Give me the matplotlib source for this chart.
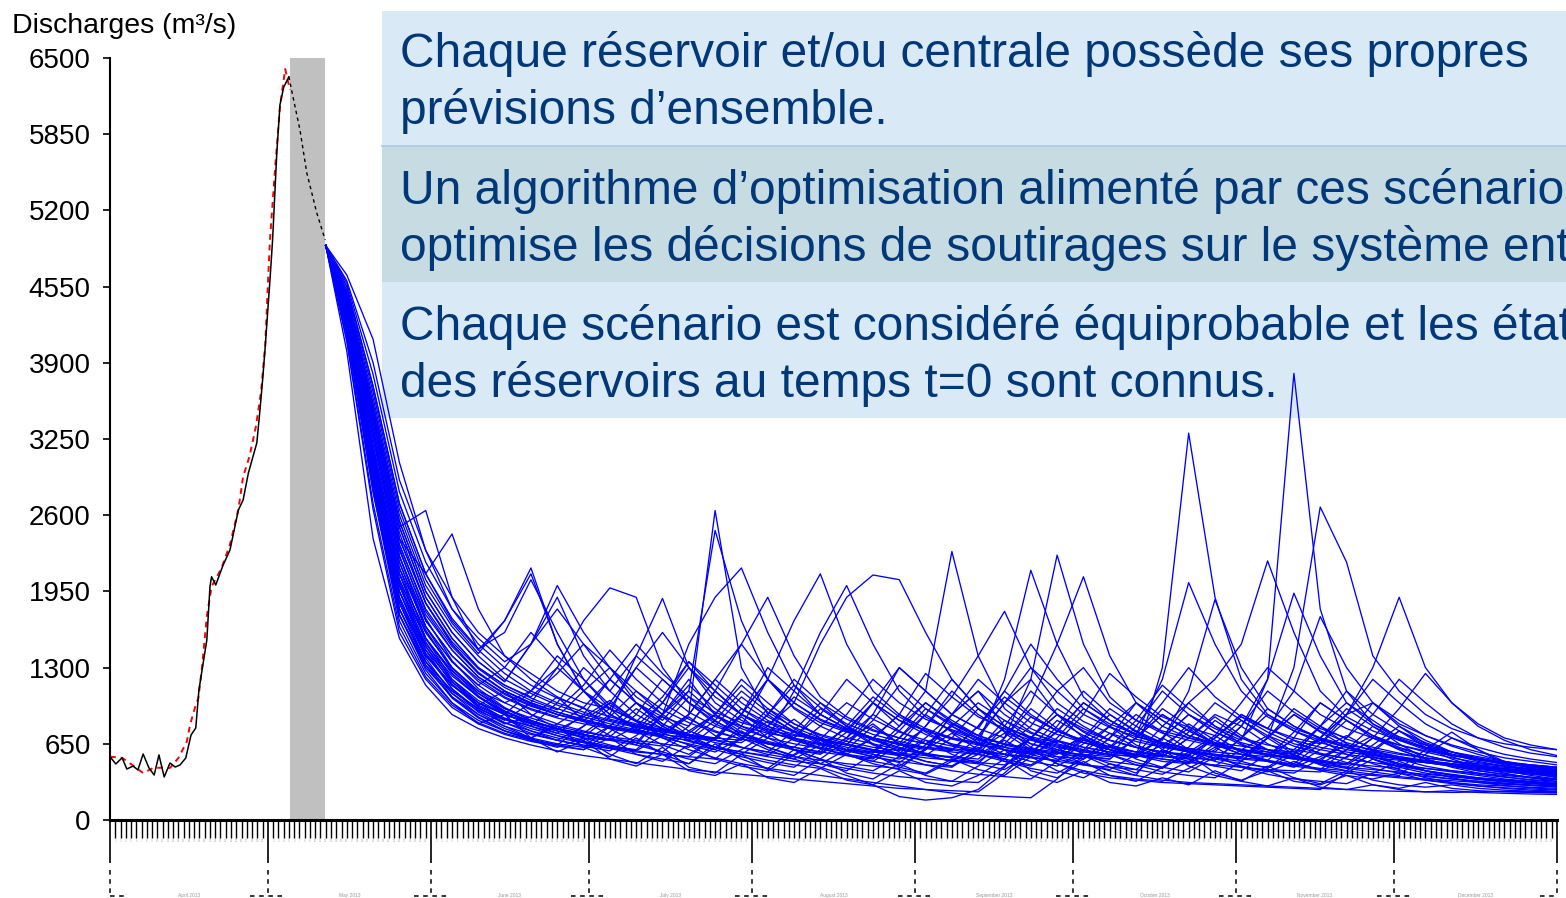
import numpy as np
import pandas as pd
import matplotlib
matplotlib.use('Agg')
import matplotlib.pyplot as plt
from matplotlib.patches import Rectangle
from matplotlib.lines import Line2D
from matplotlib.transforms import blended_transform_factory

plt.rcParams['font.family'] = ['Liberation Sans', 'DejaVu Sans']

# days counted from 1 April 2013
obs_days = [0, 1.1, 2.3, 3.2, 4.4, 5.3, 6.3, 7.4, 8.4, 9.3, 10.3, 11.4, 12.4, 13.3,
            14.4, 15.4, 16.3, 16.9, 17.9, 18.4, 19.0, 19.3, 20.1, 21.5, 22.8, 24.4,
            25.3, 26.3, 27.9, 28.5, 29.0, 29.5, 29.9, 30.4, 30.9, 31.7, 32.3, 33.0, 34.0]
obs_flow = [540, 478, 530, 435, 460, 427, 563, 444, 384, 555, 367, 486, 452, 469,
            529, 725, 785, 1109, 1393, 1535, 1990, 2075, 2005, 2175, 2303, 2644,
            2730, 2960, 3216, 3497, 3753, 4037, 4293, 4606, 4948, 5690, 6100, 6250, 6340]
# observed part inside the forecast window (dashed)
tail_days = [34.0, 34.5, 36.1, 37.4, 39.3, 40.9]
tail_flow = [6340, 6227, 5887, 5520, 5178, 4948]
# simulated discharge (red dashed)
sim_days = [0, 2.3, 3.4, 6.3, 8.2, 9.9, 11.4, 13.0, 14.6, 15.2, 16.2, 16.8, 17.5, 18.4,
            19.3, 21.2, 22.8, 24.4, 25.3, 26.5, 27.7, 28.7, 29.5, 30.1, 30.4, 31.4,
            32.3, 33.3, 34.2]
sim_flow = [540, 530, 497, 400, 444, 446, 444, 529, 668, 810, 966, 1040, 1308, 1735,
            1990, 2150, 2350, 2650, 2930, 3100, 3350, 3650, 4050, 4665, 4948, 5573,
            6085, 6406, 6227]

window = (34.2, 40.9)

# ensemble members, one value per ens_days entry
ens_days = [41] + list(range(45, 276, 5))

m01 = [4900, 4250, 3050, 2000, 1550, 1250, 1050, 900, 820, 760, 700, 680,
       800, 750, 900, 2640, 1300, 900, 750, 650, 600, 560, 520, 600,
       900, 1100, 800, 650, 580, 520, 700, 900, 750, 600, 520, 480,
       450, 600, 800, 650, 520, 460, 420, 390, 360, 340, 320, 300]
m02 = [4900, 4370, 3300, 2250, 1700, 1400, 1200, 1050, 950, 880, 1100, 1300,
       1000, 850, 1100, 2470, 1700, 1200, 950, 800, 700, 650, 600, 560,
       530, 700, 1000, 1200, 900, 700, 600, 550, 500, 480, 600, 800,
       650, 550, 480, 440, 410, 380, 560, 700, 600, 500, 440, 400]
m03 = [4900, 4470, 3500, 2500, 1900, 1550, 1300, 1150, 1050, 1250, 1500, 1300,
       1050, 900, 1500, 1900, 2150, 1600, 1150, 900, 780, 700, 650, 900,
       1200, 950, 750, 650, 600, 550, 520, 700, 950, 800, 650, 560,
       500, 460, 430, 600, 800, 650, 520, 450, 400, 370, 340, 320]
m04 = [4900, 4200, 2900, 1800, 1350, 1100, 950, 850, 1000, 1300, 1100, 900,
       780, 700, 650, 600, 800, 1200, 1700, 2100, 1500, 1100, 900, 780,
       700, 650, 600, 560, 800, 1100, 900, 750, 650, 580, 530, 500,
       700, 900, 750, 620, 540, 480, 440, 410, 380, 350, 330, 310]
m05 = [4900, 4550, 3700, 2700, 2100, 1700, 1450, 1700, 2100, 1500, 1100, 900,
       800, 1000, 1300, 1100, 900, 800, 1000, 1500, 1900, 2090, 2050, 1600,
       1200, 950, 800, 700, 640, 600, 800, 1000, 850, 720, 650, 600,
       560, 520, 700, 900, 1000, 800, 650, 560, 500, 460, 430, 410]
m06 = [4900, 4300, 3150, 2100, 1600, 1300, 1100, 950, 850, 780, 720, 680,
       640, 900, 1200, 900, 750, 650, 600, 560, 700, 1000, 800, 1100,
       2290, 1400, 950, 780, 680, 620, 580, 550, 700, 900, 750, 640,
       580, 540, 510, 480, 640, 800, 680, 580, 520, 480, 450, 420]
m07 = [4900, 4600, 3900, 2900, 2300, 1900, 1600, 1400, 1250, 1100, 1000, 950,
       1300, 1600, 1300, 1050, 900, 800, 730, 680, 640, 900, 1300, 1100,
       900, 780, 700, 1200, 2260, 1500, 1050, 850, 740, 680, 630, 600,
       580, 560, 800, 1000, 850, 700, 620, 560, 520, 490, 470, 450]
m08 = [4900, 4150, 2800, 1700, 1250, 1000, 850, 760, 700, 650, 620, 800,
       1000, 800, 680, 620, 580, 540, 500, 480, 600, 800, 650, 550,
       500, 480, 700, 1000, 1500, 2075, 1400, 1000, 800, 700, 640, 600,
       560, 530, 500, 480, 460, 440, 600, 750, 600, 480, 400, 360]
m09 = [4900, 4420, 3450, 2400, 1850, 1500, 1250, 1100, 1000, 920, 860, 800,
       760, 720, 900, 1200, 1000, 850, 750, 680, 620, 580, 550, 700,
       900, 1100, 900, 750, 650, 600, 560, 540, 1300, 3300, 1900, 1200,
       900, 780, 700, 640, 600, 560, 530, 500, 480, 460, 440, 420]
m10 = [4900, 4280, 3100, 2050, 1550, 1250, 1050, 920, 840, 780, 730, 690,
       660, 630, 800, 1100, 900, 760, 680, 620, 580, 700, 900, 750,
       640, 580, 540, 700, 900, 750, 640, 580, 540, 700, 900, 800,
       1200, 3810, 1800, 1100, 820, 690, 610, 560, 520, 490, 465, 445]
m11 = [4900, 4500, 3600, 2600, 2000, 1650, 1400, 1200, 1080, 980, 900, 840,
       790, 750, 720, 690, 900, 1200, 1000, 850, 760, 700, 650, 620,
       600, 800, 1100, 900, 760, 680, 620, 580, 560, 750, 1000, 850,
       700, 1300, 2670, 2200, 1400, 1100, 900, 780, 700, 650, 620, 600]
m12 = [4900, 4480, 3550, 2550, 1950, 1600, 1350, 1180, 1500, 1900, 1400, 1100,
       1400, 1200, 1000, 880, 800, 740, 700, 900, 1200, 1000, 850, 760,
       700, 660, 620, 800, 1100, 1300, 1000, 850, 760, 700, 660, 630,
       600, 580, 700, 900, 1300, 1900, 1300, 1000, 820, 700, 640, 600]
m13 = [4900, 4230, 2980, 1900, 1400, 1150, 980, 870, 800, 740, 900, 1200,
       1000, 820, 720, 660, 620, 580, 760, 1000, 800, 680, 610, 560,
       540, 520, 700, 950, 780, 660, 600, 560, 800, 1000, 1200, 1500,
       2210, 1600, 1100, 880, 760, 680, 620, 580, 540, 500, 470, 450]
m14 = [4900, 4400, 3350, 2300, 1750, 1450, 1220, 1080, 980, 900, 840, 790,
       750, 1000, 1350, 1100, 900, 780, 700, 650, 600, 580, 800, 1000,
       850, 720, 640, 590, 560, 700, 950, 800, 680, 1100, 1880, 1300,
       950, 800, 700, 620, 570, 530, 500, 480, 460, 440, 420, 400]
m15 = [4900, 4480, 3500, 2500, 2640, 1900, 1450, 1250, 1100, 1000, 920, 850,
       800, 760, 720, 700, 900, 1300, 1100, 900, 780, 700, 650, 610,
       580, 560, 800, 1100, 900, 760, 680, 620, 580, 560, 700, 900,
       780, 680, 620, 580, 550, 520, 500, 480, 460, 440, 420, 400]
m16 = [4900, 4650, 4100, 3050, 2300, 1800, 1500, 1300, 1150, 1040, 960, 1200,
       1500, 1250, 1050, 920, 830, 770, 720, 690, 900, 1200, 1000, 860,
       770, 700, 650, 610, 580, 560, 540, 700, 900, 760, 660, 600,
       560, 530, 700, 950, 800, 680, 600, 550, 510, 480, 450, 430]
m17 = [4900, 4420, 3450, 2400, 2100, 2440, 1800, 1400, 1200, 1050, 950, 880,
       820, 770, 730, 700, 680, 900, 1200, 1000, 860, 760, 700, 650,
       800, 1000, 850, 740, 670, 620, 580, 560, 540, 520, 700, 880,
       750, 650, 600, 560, 530, 510, 490, 470, 450, 430, 410, 390]
m18 = [4900, 4300, 3150, 2100, 1600, 1300, 1100, 1000, 1100, 1300, 1700, 1980,
       1900, 1300, 1000, 820, 720, 650, 600, 570, 700, 900, 760, 650,
       600, 560, 520, 700, 950, 800, 680, 620, 580, 540, 510, 700,
       900, 760, 660, 600, 560, 520, 490, 460, 440, 420, 400, 380]
m19 = [4900, 4200, 2950, 1850, 1400, 1150, 1000, 900, 830, 780, 740, 900,
       1400, 1890, 1300, 1000, 850, 750, 690, 640, 600, 570, 760, 1000,
       830, 720, 650, 600, 570, 540, 520, 700, 900, 760, 650, 590,
       550, 520, 490, 470, 600, 760, 640, 540, 470, 420, 380, 350]
m20 = [4900, 4450, 3480, 2450, 1850, 1500, 1260, 1100, 990, 900, 840, 790,
       750, 720, 900, 1200, 1500, 1900, 1400, 1050, 880, 770, 700, 650,
       610, 580, 560, 540, 700, 950, 800, 690, 630, 580, 550, 530,
       510, 700, 1000, 850, 700, 610, 550, 500, 460, 430, 410, 390]
m21 = [4900, 4250, 3050, 2000, 1500, 1230, 1050, 930, 840, 780, 730, 690,
       660, 900, 1150, 950, 800, 700, 1100, 1600, 2000, 1500, 1100, 880,
       760, 680, 620, 580, 750, 1000, 850, 720, 640, 590, 550, 520,
       500, 480, 650, 850, 720, 620, 550, 500, 460, 430, 400, 380]
m22 = [4900, 4520, 3650, 2650, 2050, 1680, 1420, 1700, 2150, 1500, 1100, 860,
       810, 770, 740, 900, 1150, 950, 820, 730, 670, 620, 590, 800,
       1050, 1400, 1780, 1300, 1000, 840, 740, 670, 620, 580, 560, 540,
       700, 950, 800, 690, 620, 570, 530, 500, 470, 450, 430, 410]
m23 = [4900, 4170, 2850, 1750, 1300, 1050, 900, 800, 730, 680, 640, 610,
       580, 560, 540, 700, 950, 800, 680, 610, 560, 530, 700, 900,
       750, 650, 1200, 2130, 1500, 1050, 850, 730, 660, 610, 580, 560,
       540, 750, 1000, 850, 720, 640, 580, 530, 490, 460, 430, 410]
m24 = [4900, 4400, 3400, 2350, 1800, 1480, 1250, 1100, 1000, 920, 850, 800,
       760, 900, 1100, 900, 780, 700, 650, 610, 800, 1050, 880, 760,
       690, 640, 600, 570, 760, 1000, 850, 730, 1200, 2025, 1500, 1100,
       880, 760, 680, 620, 580, 540, 510, 480, 450, 430, 410, 390]
m25 = [4900, 4280, 3100, 2050, 1550, 1270, 1080, 950, 870, 800, 750, 710,
       680, 650, 620, 800, 1050, 880, 760, 690, 640, 600, 570, 550,
       700, 950, 800, 690, 630, 590, 560, 540, 700, 900, 780, 680,
       1200, 1935, 1400, 1000, 820, 710, 640, 580, 530, 490, 460, 440]
m26 = [4900, 4480, 3550, 2550, 1950, 1600, 1350, 1180, 1500, 2000, 1600, 1300,
       1100, 940, 830, 750, 690, 650, 620, 800, 1000, 860, 750, 680,
       630, 590, 560, 700, 900, 780, 680, 620, 580, 550, 700, 900,
       780, 1100, 1735, 1300, 1000, 820, 720, 640, 580, 530, 500, 470]
m27 = [4900, 4000, 2400, 1550, 1150, 900, 780, 700, 640, 590, 550, 520,
       490, 460, 430, 410, 390, 370, 350, 330, 310, 290, 270, 260,
       250, 240, 400, 600, 480, 400, 360, 340, 320, 310, 300, 290,
       280, 270, 260, 400, 520, 430, 360, 320, 290, 270, 255, 245]
m28 = [4900, 4100, 2700, 1650, 1220, 980, 830, 740, 680, 640, 800, 1000,
       850, 700, 600, 530, 480, 440, 410, 380, 350, 320, 290, 260,
       230, 210, 200, 190, 350, 550, 450, 380, 340, 320, 310, 300,
       290, 280, 270, 260, 250, 245, 240, 235, 240, 245, 240, 235]
m29 = [4900, 4230, 2980, 1900, 1420, 1150, 970, 860, 780, 720, 670, 630,
       600, 800, 1050, 850, 700, 600, 520, 450, 380, 300, 200, 170,
       190, 260, 450, 700, 580, 480, 420, 380, 700, 1000, 800, 650,
       550, 480, 430, 400, 380, 360, 340, 320, 300, 290, 280, 270]
m30 = [4900, 4350, 3250, 2200, 1650, 1350, 1150, 1300, 1600, 1350, 1100, 950,
       850, 780, 720, 680, 900, 1200, 1000, 860, 770, 1000, 1300, 1100,
       900, 780, 1100, 1500, 1200, 950, 820, 730, 1000, 1300, 1050, 880,
       780, 700, 650, 900, 1200, 1000, 820, 700, 620, 560, 520, 490]
m31 = [4900, 4580, 3800, 2800, 2200, 1800, 1550, 1350, 1500, 1800, 1500, 1200,
       1000, 880, 800, 1100, 1500, 1200, 960, 830, 750, 690, 900, 1250,
       1050, 880, 780, 710, 660, 900, 1250, 1050, 880, 790, 720, 1000,
       1300, 1100, 900, 780, 700, 640, 590, 550, 520, 490, 470, 450]
m32 = [4900, 4200, 2900, 1800, 1350, 1100, 950, 860, 800, 1000, 1300, 1100,
       900, 780, 700, 900, 1200, 1000, 820, 720, 650, 600, 560, 800,
       1100, 900, 760, 680, 620, 580, 550, 800, 1100, 900, 750, 660,
       600, 560, 800, 1100, 900, 760, 660, 580, 520, 470, 430, 400]
m33 = [4900, 4400, 3400, 2350, 1780, 1450, 1220, 1070, 970, 900, 850, 1000,
       1300, 1100, 920, 800, 720, 660, 620, 580, 550, 520, 700, 950,
       800, 690, 620, 570, 540, 520, 700, 1000, 850, 720, 650, 600,
       560, 530, 500, 700, 1000, 850, 720, 630, 560, 500, 460, 430]
m34 = [4900, 4250, 3020, 1950, 1450, 1180, 1000, 900, 1100, 1400, 1200, 980,
       840, 740, 670, 620, 580, 550, 700, 950, 800, 690, 620, 570,
       530, 500, 650, 880, 760, 660, 600, 550, 520, 490, 650, 850,
       720, 630, 570, 520, 490, 460, 440, 420, 400, 380, 360, 345]
m35 = [4900, 4470, 3500, 2500, 1900, 1550, 1300, 1150, 1040, 950, 880, 820,
       770, 730, 700, 680, 660, 800, 1050, 900, 780, 700, 640, 600,
       900, 1200, 1000, 830, 730, 660, 620, 850, 1150, 950, 800, 700,
       640, 600, 560, 530, 700, 950, 1250, 1000, 800, 680, 600, 550]
m36 = [4900, 4080, 2650, 1600, 1200, 960, 820, 730, 670, 630, 600, 750,
       950, 800, 680, 600, 540, 490, 450, 600, 800, 650, 540, 470,
       420, 390, 370, 350, 500, 700, 560, 470, 410, 380, 360, 500,
       700, 560, 470, 420, 390, 370, 350, 335, 320, 305, 295, 285]
m37 = [4900, 4330, 3200, 2150, 1650, 1350, 1150, 1000, 900, 820, 760, 710,
       900, 1200, 1000, 840, 740, 670, 620, 580, 750, 1000, 850, 730,
       650, 600, 560, 530, 510, 680, 900, 760, 660, 600, 560, 530,
       700, 900, 760, 660, 590, 540, 500, 470, 440, 420, 400, 380]
m38 = [4900, 4420, 3450, 2400, 1850, 1520, 1290, 1130, 1020, 940, 1150, 1450,
       1200, 1000, 860, 760, 690, 900, 1150, 960, 820, 730, 670, 620,
       590, 800, 1050, 880, 760, 680, 620, 580, 550, 530, 510, 700,
       950, 800, 690, 620, 560, 520, 490, 460, 430, 410, 390, 370]
m39 = [4900, 4170, 2850, 1750, 1320, 1080, 930, 830, 760, 700, 660, 620,
       590, 560, 540, 520, 700, 950, 780, 660, 590, 540, 500, 470,
       450, 600, 850, 700, 600, 540, 500, 470, 450, 620, 850, 700,
       600, 530, 480, 450, 430, 410, 390, 370, 355, 340, 325, 310]
m40 = [4900, 4550, 3700, 2700, 2100, 1720, 1460, 1600, 2050, 1600, 1200, 950,
       840, 1050, 1350, 1150, 950, 830, 750, 690, 640, 850, 1150, 950,
       820, 720, 1000, 1300, 1100, 900, 790, 710, 650, 610, 580, 800,
       1100, 920, 780, 700, 900, 1200, 1000, 820, 700, 620, 570, 540]
m41 = [4900, 4250, 3020, 1950, 1480, 1200, 1020, 900, 820, 760, 710, 880,
       1100, 900, 760, 680, 620, 580, 540, 510, 480, 460, 440, 600,
       820, 700, 600, 540, 500, 470, 450, 430, 600, 820, 680, 580,
       510, 470, 440, 420, 580, 760, 620, 520, 450, 400, 360, 330]
m42 = [4900, 4370, 3300, 2250, 1700, 1400, 1180, 1040, 940, 870, 820, 780,
       740, 710, 680, 850, 1100, 920, 790, 700, 640, 590, 560, 530,
       510, 490, 470, 620, 850, 720, 620, 560, 520, 490, 470, 450,
       430, 420, 410, 540, 700, 600, 520, 460, 420, 390, 365, 345]
m43 = [4900, 4200, 2900, 1850, 1350, 1050, 880, 760, 680, 620, 700, 560,
       480, 620, 450, 400, 560, 430, 380, 520, 400, 350, 480, 380,
       330, 460, 600, 420, 360, 500, 380, 330, 450, 560, 400, 340,
       420, 330, 300, 380, 300, 270, 320, 270, 250, 240, 235, 230]
m44 = [4900, 4300, 3100, 2000, 1450, 1120, 920, 800, 700, 800, 620, 540,
       700, 560, 480, 650, 520, 440, 600, 480, 420, 560, 450, 400,
       520, 430, 380, 540, 420, 360, 480, 400, 600, 460, 380, 330,
       460, 360, 310, 420, 340, 300, 280, 300, 270, 255, 245, 240]
m45 = [4900, 4150, 2800, 1750, 1280, 1000, 820, 900, 700, 580, 680, 520,
       460, 560, 420, 380, 480, 360, 320, 440, 340, 300, 420, 320,
       290, 380, 520, 380, 320, 420, 320, 290, 360, 300, 420, 330,
       290, 360, 280, 260, 300, 260, 240, 250, 235, 228, 222, 218]
m46 = [4900, 4350, 3200, 2150, 1550, 1200, 1000, 860, 760, 680, 800, 950,
       760, 640, 560, 700, 880, 700, 600, 520, 680, 820, 650, 560,
       500, 640, 780, 620, 540, 480, 620, 760, 600, 520, 460, 600,
       720, 580, 500, 450, 560, 480, 420, 380, 350, 330, 315, 300]
m47 = [4900, 4250, 3000, 1950, 1420, 1120, 940, 820, 880, 1050, 850, 720,
       640, 580, 760, 900, 720, 620, 550, 680, 560, 500, 460, 600,
       740, 600, 520, 470, 600, 700, 560, 490, 440, 580, 720, 580,
       500, 450, 540, 640, 520, 450, 400, 370, 345, 325, 310, 295]
m48 = [4900, 4400, 3350, 2250, 1650, 1300, 1080, 930, 820, 740, 680, 800,
       1000, 820, 700, 620, 560, 700, 860, 700, 600, 540, 490, 640,
       800, 660, 560, 500, 460, 580, 740, 620, 540, 700, 880, 720,
       600, 530, 480, 600, 720, 600, 520, 460, 420, 390, 365, 345]
m49 = [4900, 4180, 2880, 1800, 1320, 1040, 870, 760, 690, 640, 600, 700,
       560, 500, 640, 520, 460, 420, 560, 700, 560, 480, 430, 390,
       500, 620, 500, 440, 400, 520, 640, 520, 450, 410, 540, 460,
       410, 500, 420, 380, 350, 400, 340, 310, 290, 275, 265, 255]
m50 = [4900, 4320, 3150, 2100, 1520, 1180, 980, 1100, 900, 780, 700, 640,
       590, 720, 880, 720, 620, 560, 520, 640, 780, 640, 560, 500,
       460, 560, 680, 560, 500, 650, 800, 640, 560, 500, 460, 420,
       560, 680, 560, 490, 440, 400, 370, 350, 330, 315, 300, 290]
m51 = [4900, 4220, 2950, 1880, 1380, 1080, 900, 780, 700, 820, 960, 780,
       660, 580, 520, 480, 600, 740, 600, 520, 460, 420, 540, 680,
       560, 480, 430, 560, 680, 560, 480, 430, 390, 500, 620, 500,
       440, 560, 680, 560, 480, 420, 380, 350, 330, 310, 295, 280]
m52 = [4900, 4380, 3280, 2200, 1620, 1280, 1060, 910, 800, 720, 660, 610,
       560, 520, 480, 620, 760, 620, 540, 480, 440, 400, 370, 350,
       330, 320, 460, 600, 480, 420, 380, 350, 330, 440, 560, 450,
       390, 350, 330, 310, 400, 500, 420, 360, 320, 295, 275, 260]
m53 = [4900, 4280, 3080, 2030, 1480, 1160, 960, 830, 740, 680, 630, 590,
       720, 880, 720, 620, 560, 510, 470, 440, 560, 700, 580, 500,
       460, 600, 740, 600, 520, 470, 430, 560, 700, 580, 500, 450,
       420, 400, 520, 640, 540, 470, 420, 385, 360, 340, 325, 310]
m54 = [4900, 4450, 3420, 2320, 1720, 1360, 1120, 960, 850, 770, 880, 1020,
       840, 720, 640, 580, 700, 840, 700, 610, 550, 500, 640, 780,
       640, 560, 500, 460, 580, 720, 600, 530, 640, 780, 640, 560,
       500, 460, 600, 720, 600, 520, 460, 420, 390, 365, 345, 330]

members = [m01, m02, m03, m04, m05, m06, m07, m08, m09, m10, m11, m12, m13, m14,
           m15, m16, m17, m18, m19, m20, m21, m22, m23, m24, m25, m26, m27, m28,
           m29, m30, m31, m32, m33, m34, m35, m36, m37, m38, m39, m40, m41, m42,
           m43, m44, m45, m46, m47, m48, m49, m50, m51, m52, m53, m54]

month_starts = [0, 30, 61, 91, 122, 153, 183, 214, 244, 275]
month_labels = ['April 2013', 'May 2013', 'June 2013', 'July 2013', 'August 2013',
                'September 2013', 'October 2013', 'November 2013', 'December 2013']
y_ticks = list(range(0, 6501, 650))

box_lines = [
    ['Chaque réservoir et/ou centrale possède ses propres',
     'prévisions d’ensemble.'],
    ['Un algorithme d’optimisation alimenté par ces scénarios',
     'optimise les décisions de soutirages sur le système entier.'],
    ['Chaque scénario est considéré équiprobable et les états',
     'des réservoirs au temps t=0 sont connus.'],
]

W, H = 1566, 898
fig = plt.figure(figsize=(W / 100, H / 100), dpi=100)
ax = fig.add_axes([110 / W, 78 / H, (1557 - 110) / W, (820 - 58) / H])
ax.set_facecolor('none')

# text boxes behind the curves
box_tops = [11, 146, 282]
box_bottoms = [146, 282, 418]
box_colors = ['#D9E9F5', '#C7DBE2', '#D9E9F5']
for top, bot, col in zip(box_tops, box_bottoms, box_colors):
    fig.add_artist(Rectangle((382 / W, 1 - bot / H), (W - 382) / W + 0.01,
                             (bot - top) / H, transform=fig.transFigure,
                             facecolor=col, edgecolor='none', zorder=-2))
fig.add_artist(Line2D([382 / W, 1], [1 - 146 / H, 1 - 146 / H],
                      transform=fig.transFigure, color='#A8CCE0', lw=1.2, zorder=-1))
baselines = [[67, 124], [204, 261], [340, 397]]
for lines, bases in zip(box_lines, baselines):
    for txt, b in zip(lines, bases):
        fig.text(400 / W, 1 - b / H, txt, fontsize=34.5, color='#00387A',
                 ha='left', va='baseline', zorder=5)

ax.axvspan(window[0], window[1], color='#C0C0C0', lw=0, zorder=1)

for m in members:
    ax.plot(ens_days, m, color='#0000FF', lw=0.95, zorder=3)

ax.plot(sim_days, sim_flow, color='#FF0000', lw=1.4, ls=(0, (3, 2.5)), zorder=4)
ax.plot(obs_days, obs_flow, color='black', lw=1.1, zorder=5)
ax.plot(tail_days, tail_flow, color='black', lw=1.0, ls=(0, (2.5, 2.5)), zorder=5)

ax.set_xlim(0, 275)
ax.set_ylim(0, 6500)

for s in ['top', 'right']:
    ax.spines[s].set_visible(False)
ax.spines['left'].set_linewidth(1.5)
ax.spines['bottom'].set_linewidth(2.2)

ax.set_yticks(y_ticks)
ax.set_yticklabels([str(v) for v in y_ticks])
ax.tick_params(axis='y', length=5, width=1.2, pad=9, labelsize=20)

# daily ticks with tiny day numbers, tall ticks at month starts
dates = pd.date_range('2013-04-01', periods=276)
minor_days = [d for d in range(276) if d not in month_starts]
ax.set_xticks(month_starts)
ax.set_xticklabels([''] * len(month_starts))
ax.set_xticks(minor_days, minor=True)
ax.set_xticklabels([str(dates[d].day) for d in minor_days], minor=True)
ax.tick_params(axis='x', which='major', length=31, width=1.2)
ax.tick_params(axis='x', which='minor', length=13, width=1.0, pad=0.5,
               labelsize=2, labelcolor='#AAAAAA')

trans = blended_transform_factory(ax.transData, ax.transAxes)
for d in month_starts:
    ax.plot([d, d], [-0.065, -0.1], transform=trans, color='black', lw=1.1,
            ls=(0, (3, 3)), clip_on=False)
    ax.plot([max(d - 3.3, 0), min(d + 3.3, 275)], [-0.1, -0.1], transform=trans,
            color='black', lw=1.1, ls=(0, (3, 3)), clip_on=False)
for i, lab in enumerate(month_labels):
    mid = (month_starts[i] + month_starts[i + 1]) / 2
    ax.text(mid, -0.099, lab, transform=trans, ha='center', va='center',
            fontsize=3.5, color='#999999', clip_on=False)

fig.text(12 / W, 1 - 33 / H, 'Discharges (m³/s)', fontsize=20.5, ha='left',
         va='baseline')

fig.savefig('out.png', dpi=100)
